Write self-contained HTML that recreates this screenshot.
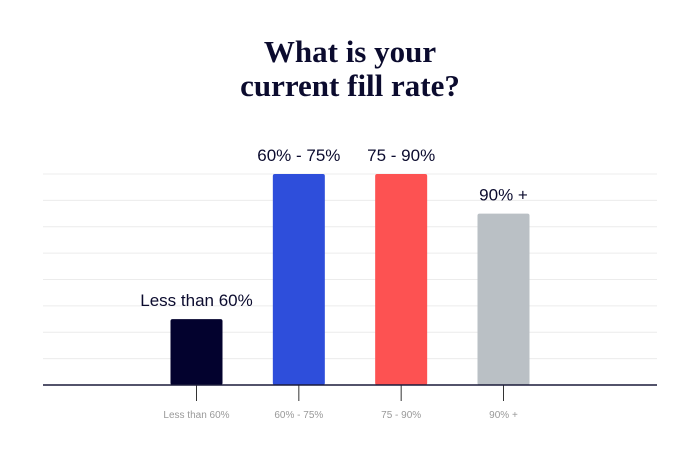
<!DOCTYPE html>
<html><head><meta charset="utf-8"><style>
body{margin:0;background:#fff;}
svg{display:block;}
</style></head><body>
<svg width="700" height="466" viewBox="0 0 700 466">
<text x="350" y="62" text-anchor="middle" font-family="Liberation Serif, serif" font-weight="bold" font-size="31" fill="#0b0b2e">What is your</text>
<text x="350" y="96" text-anchor="middle" font-family="Liberation Serif, serif" font-weight="bold" font-size="31" fill="#0b0b2e">current fill rate?</text>
<g id="grid"></g>
<g id="bars"></g>
<g id="xaxis"></g>
</svg>
<script>
const categories=["Less than  60%","60% - 75%","75 - 90%","90% +"];
const values=[2.5,8,8,6.5];
const gridTicks=[1,2,3,4,5,6,7,8];
const colors=["#03022e","#2e4edb","#fd5252","#bac0c5"];
const NS="http://www.w3.org/2000/svg";
const x0=43,x1=657,y0=385,yMax=8,plotH=211;
const band=(x1-x0)/6, barW=52;
function y(v){return y0-v/yMax*plotH;}
function xc(i){return x0+band*(i+1.5);}
function mk(t,a,p){const e=document.createElementNS(NS,t);for(const k in a)e.setAttribute(k,a[k]);p.appendChild(e);return e;}
const grid=document.getElementById('grid'),bars=document.getElementById('bars'),xa=document.getElementById('xaxis');
gridTicks.forEach(v=>{const l=mk('line',{x1:x0,x2:x1,y1:y(v),y2:y(v),stroke:'#ececec','stroke-width':1},grid);

});
categories.forEach((c,i)=>{
const r=mk('rect',{x:xc(i)-barW/2,y:y(values[i]),width:barW,height:y0-y(values[i]),rx:2,fill:colors[i]},bars);


const t=mk('text',{x:xc(i),y:y(values[i])-13,'text-anchor':'middle','font-family':'Liberation Sans, sans-serif','font-size':17,'font-weight':'500',fill:'#0b0b2e'},bars);
t.textContent=c;


const tk=mk('line',{x1:xc(i),x2:xc(i),y1:y0,y2:y0+16,stroke:'#333',"stroke-width":1},xa);


const lb=mk('text',{x:xc(i),y:y0+33,'text-anchor':'middle','font-family':'Liberation Sans, sans-serif','font-size':10,fill:'#999'},xa);
lb.textContent=c;


});
const ax=mk('line',{x1:x0,x2:x1,y1:y0,y2:y0,stroke:'#1a1a3a','stroke-width':1.5},xa);


</script>
</body></html>
